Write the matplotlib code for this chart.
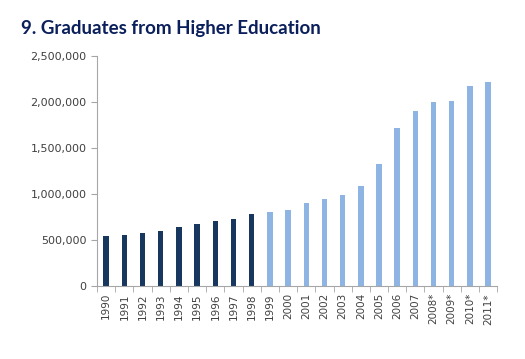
import numpy as np
import matplotlib.pyplot as plt
from matplotlib.ticker import FuncFormatter, FixedLocator

plt.rcParams["font.family"] = ["DejaVu Sans"]

years = ["1990", "1991", "1992", "1993", "1994", "1995", "1996", "1997", "1998",
         "1999", "2000", "2001", "2002", "2003", "2004", "2005", "2006", "2007",
         "2008*", "2009*", "2010*", "2011*"]
graduates = [540000, 555000, 578000, 597000, 645000, 677000, 703000, 725000, 779000,
             804000, 826000, 905000, 949000, 989000, 1090000, 1326000, 1714000, 1906000,
             1997000, 2014000, 2177000, 2217000]
# first 9 years dark, rest light
n_dark = 9

DARK = "#17375E"
LIGHT = "#8DB4E2"
AXIS_GREY = "#A6A6A6"
TEXT_GREY = "#404040"

fig = plt.figure(figsize=(5.25, 3.59), dpi=100)
ax = fig.add_axes([0.185, 0.203, 0.762, 0.641])

x = np.arange(len(years))
colors = [DARK if i < n_dark else LIGHT for i in range(len(years))]
ax.bar(x, graduates, width=0.3, color=colors)

ax.set_xlim(-0.5, len(years) - 0.5)
ax.set_ylim(0, 2500000)
ax.set_yticks(np.arange(0, 2500001, 500000))
ax.yaxis.set_major_formatter(FuncFormatter(lambda v, p: f"{int(v):,}"))

ax.set_xticks(x)
ax.set_xticklabels(years, rotation=90)
ax.xaxis.set_minor_locator(FixedLocator(np.arange(-0.5, len(years), 1.0)))
ax.tick_params(axis="x", which="major", length=0, pad=5, labelsize=7.5)
ax.tick_params(axis="x", which="minor", length=4, color=AXIS_GREY, direction="out")
ax.tick_params(axis="y", length=4, color=AXIS_GREY, direction="out", labelsize=8)
ax.tick_params(labelcolor=TEXT_GREY)

for side in ["top", "right"]:
    ax.spines[side].set_visible(False)
for side in ["left", "bottom"]:
    ax.spines[side].set_color(AXIS_GREY)
    ax.spines[side].set_linewidth(0.8)

fig.text(0.04, 0.92, "9. Graduates from Higher Education", fontsize=13.5,
         fontweight="bold", color="#0B1F5C", family="Lato", va="center")

fig.savefig("out.png", dpi=100)
